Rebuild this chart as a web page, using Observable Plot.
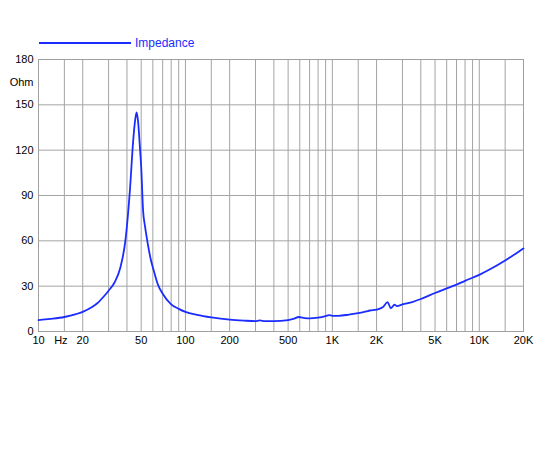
<!DOCTYPE html>
<html><head><meta charset="utf-8">
<script src="https://cdn.jsdelivr.net/npm/d3@7"></script>
<script src="https://cdn.jsdelivr.net/npm/@observablehq/plot@0.6"></script>
<style>
body{margin:0;background:#fff;font-family:"Liberation Sans",Arial,Helvetica,sans-serif}
#wrap{position:relative;width:550px;height:450px}
#legend{position:absolute;left:39px;top:35px;height:16px;display:flex;align-items:center;color:#1a2cff;font-size:12px}
#legend .sw{width:92px;height:0;border-top:2px solid #1a2cff;margin-right:4px}
</style>
</head><body>
<div id="wrap"><div id="chart"></div><div id="legend"><span class="sw"></span><span>Impedance</span></div></div>
<script>
// Impedance curve (Hz, Ohm)
const freq = [10,12,15,18,20,23,25,28,30,33,36,39,42,44,45.5,46.5,47.5,49,50,51.5,53,55,58,61,65,70,80,90,100,120,150,200,250,300,320,350,400,500,550,590,650,700,800,900,950,1000,1100,1300,1500,1700,1800,2000,2200,2380,2500,2650,2750,3000,3500,4000,5000,6000,7000,8000,10000,12000,15000,18000,20000];
const ohm  = [7.5,8.3,9.6,11.5,13,16,18.5,23.5,27,32.6,42,60,95,125,140,145,140,122,109,80,70,60,48,40,31,25,18,15,13,11,9.3,7.8,7.2,6.9,7.3,6.9,6.9,7.6,8.5,9.6,8.9,8.7,9.2,10.2,10.8,10.4,10.4,11.2,12.1,13.3,13.9,14.5,16,19.4,15.4,17.7,16.8,17.9,19.5,21.5,25.5,28.5,31,33.5,37.5,41.5,47,52,55];

const xTicks = [10,20,50,100,200,500,1000,2000,5000,10000,20000];
const xTickLabels = ["10","20","50","100","200","500","1K","2K","5K","10K","20K"];
const xGrid = [10,15,20,30,40,50,60,70,80,90,100,150,200,300,400,500,600,700,800,900,1000,1500,2000,3000,4000,5000,6000,7000,8000,9000,10000,15000,20000];
const yTicks = [0,30,60,90,120,150,180];

const data = freq.map((f,i)=>({f, z: ohm[i]}));
const xLabelRows = xTicks.map((v,i)=>({v, t: xTickLabels[i]}));

const chart = Plot.plot({
  width: 550, height: 450,
  marginLeft: 38, marginRight: 27, marginTop: 59, marginBottom: 119,
  style: {fontFamily: '"Liberation Sans",Arial,Helvetica,sans-serif', fontSize: "11px", color: "#000", background: "#fff"},
  x: {type: "log", domain: [10, 20000], axis: null},
  y: {domain: [0, 180], axis: null},
  marks: [
    Plot.ruleX(xGrid, {stroke: "#a4a4a4", strokeWidth: 1}),
    Plot.ruleY(yTicks, {stroke: "#a4a4a4", strokeWidth: 1}),
    Plot.frame({stroke: "#a0a0a0"}),
    Plot.line(data, {x: "f", y: "z", stroke: "#1a2cff", strokeWidth: 1.8, curve: "monotone-x"}),
    Plot.text(xLabelRows, {x: "v", text: "t", frameAnchor: "bottom", lineAnchor: "top", dy: 5, fill: "#000"}),
    Plot.text(yTicks, {y: d => d, text: d => String(d), frameAnchor: "left", textAnchor: "end", dx: -5, fill: "#000"}),
    Plot.text(["Hz"], {x: [14.2], frameAnchor: "bottom", lineAnchor: "top", dy: 5, fill: "#000"}),
    Plot.text(["Ohm"], {y: [165], frameAnchor: "left", textAnchor: "end", dx: -5, fill: "#000"})
  ]
});
document.getElementById("chart").appendChild(chart);
</script>
</body></html>
